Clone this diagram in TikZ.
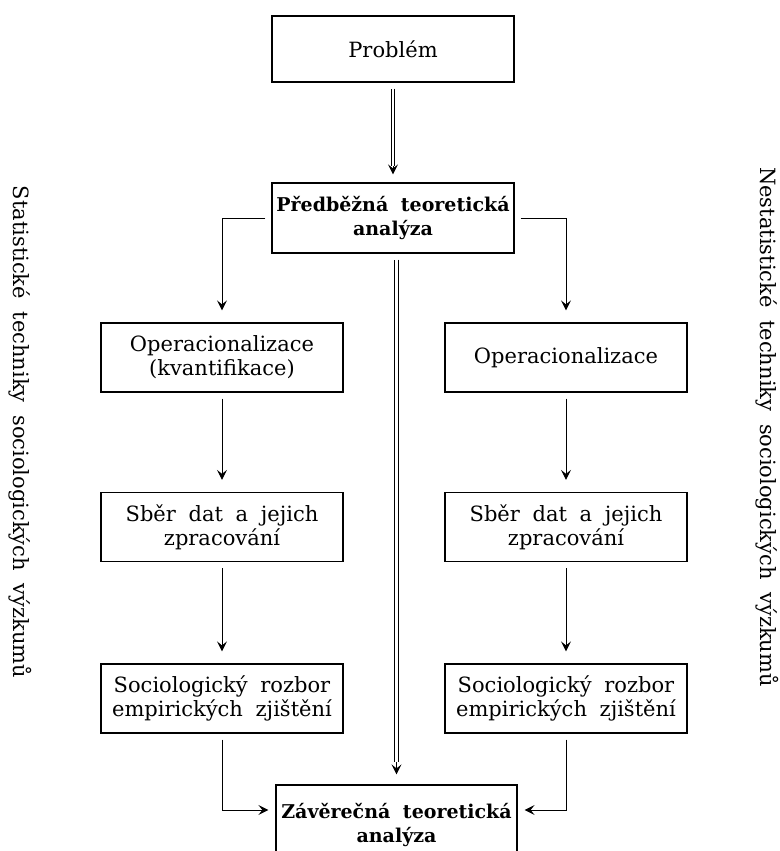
\documentclass[tikz,border=0pt]{standalone}
\usepackage{fontspec}
\setmainfont[WordSpace=1.9]{DejaVu Serif}
\usepackage{tikz}
\usetikzlibrary{arrows.meta}

\begin{document}
\begin{tikzpicture}[x=1pt, y=-1pt,
    every node/.style={font=\fontsize{21}{24}\selectfont},
    box/.style={draw, line width=1.2pt, minimum width=242pt, minimum height=69pt, inner sep=0pt, align=center},
    boldbox/.style={box, font=\fontsize{19}{24}\selectfont\bfseries},
    flow/.style={line width=1pt, -{Stealth[length=10pt, width=10pt, inset=4pt]}, shorten <=6pt, shorten >=12pt},
    dbl/.style={line width=1pt, double, double distance=2.6pt, shorten <=6pt},
    side/.style={rotate=-90}]
    \useasboundingbox (0,0) rectangle (779,851);
    \clip (0,0) rectangle (779,851);

    % Problem and preliminary analysis
    \node[box, minimum height=66pt] (prob) at (393,49) {Problém};
    \node[boldbox, minimum height=70pt] (pred) at (393,218) {Předběžná teoretická\\analýza};

    % Statistical branch
    \node[box] (opl) at (222,357.5) {Operacionalizace\\(kvantifikace)};
    \node[box] (sbl) at (222,527) {Sběr dat a jejich\\zpracování};
    \node[box] (srl) at (222,698.5) {Sociologický rozbor\\empirických zjištění};

    % Non-statistical branch
    \node[box] (opr) at (566,357.5) {Operacionalizace};
    \node[box] (sbr) at (566,527) {Sběr dat a jejich\\zpracování};
    \node[box] (srr) at (566,698.5) {Sociologický rozbor\\empirických zjištění};

    % Final analysis (cut by the page edge)
    \node[boldbox, minimum width=241pt, minimum height=80pt] (zav) at (396.5,825) {Závěrečná teoretická\\analýza};

    % Side labels
    \node[side] (stat) at (20,432) {Statistické techniky sociologických výzkumů};
    \node[side] (nestat) at (767,427) {Nestatistické techniky sociologických výzkumů};

    % Double arrows
    \draw[dbl, shorten >=16pt] (prob) -- (pred);
    \draw[flow, shorten <=0pt, shorten >=8pt] ([yshift=16pt]pred.north) -- (pred.north);
    \draw[dbl, shorten >=22pt] (pred.south -| zav.north) -- (zav.north);
    \draw[flow, shorten <=0pt, shorten >=10pt] ([yshift=22pt]zav.north) -- (zav.north);

    % Arrows
    \draw[flow] (pred.west) -| (opl.north);
    \draw[flow] (pred.east) -| (opr.north);
    \draw[flow] (opl) -- (sbl);
    \draw[flow] (sbl) -- (srl);
    \draw[flow] (opr) -- (sbr);
    \draw[flow] (sbr) -- (srr);
    \draw[flow, shorten >=7pt] (srl) |- ([yshift=15pt]zav.west);
    \draw[flow, shorten >=7pt] (srr) |- ([yshift=15pt]zav.east);
\end{tikzpicture}
\end{document}
